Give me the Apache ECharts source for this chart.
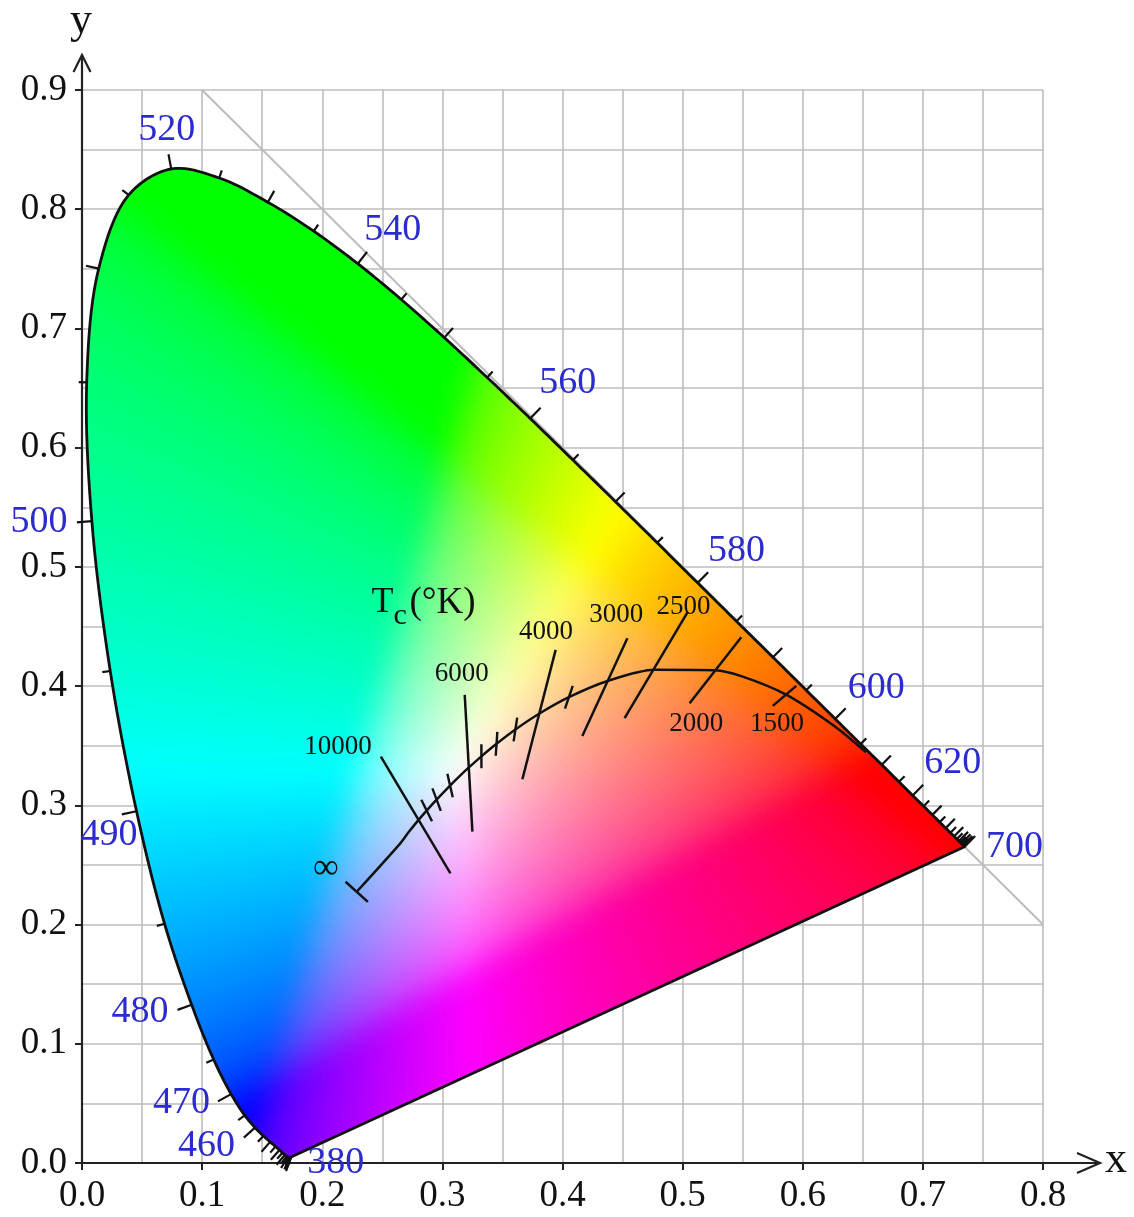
<!DOCTYPE html>
<html>
<head>
<meta charset="utf-8">
<script src="https://cdn.jsdelivr.net/npm/echarts@6/dist/echarts.min.js"></script>
<style>
  html, body { margin: 0; padding: 0; background: #fff; }
  #chart { width: 1134px; height: 1217px; }
</style>
</head>
<body>
<div id="chart"></div>
<script>
// spectral locus (CIE 1931, 5 nm steps)
const wavelengths = [380,385,390,395,400,405,410,415,420,425,430,435,440,445,450,455,460,465,470,475,480,485,490,495,500,505,510,515,520,525,530,535,540,545,550,555,560,565,570,575,580,585,590,595,600,605,610,615,620,625,630,635,640,645,650,655,660,665,670,675,680,685,690,695,700]
const locusX = [0.1741,0.1740,0.1738,0.1736,0.1733,0.1730,0.1726,0.1721,0.1714,0.1703,0.1689,0.1669,0.1644,0.1611,0.1566,0.1510,0.1440,0.1355,0.1241,0.1096,0.0913,0.0687,0.0454,0.0235,0.0082,0.0039,0.0139,0.0389,0.0743,0.1142,0.1547,0.1929,0.2296,0.2658,0.3016,0.3373,0.3731,0.4087,0.4441,0.4788,0.5125,0.5448,0.5752,0.6029,0.6270,0.6482,0.6658,0.6801,0.6915,0.7006,0.7079,0.7140,0.7190,0.7230,0.7260,0.7283,0.7300,0.7311,0.7320,0.7327,0.7334,0.7340,0.7344,0.7346,0.7347]
const locusY = [0.0050,0.0050,0.0049,0.0049,0.0048,0.0048,0.0048,0.0048,0.0051,0.0058,0.0069,0.0086,0.0109,0.0138,0.0177,0.0227,0.0297,0.0399,0.0578,0.0868,0.1327,0.2007,0.2950,0.4127,0.5384,0.6548,0.7502,0.8120,0.8338,0.8262,0.8059,0.7816,0.7543,0.7243,0.6923,0.6589,0.6245,0.5896,0.5547,0.5202,0.4866,0.4544,0.4242,0.3965,0.3725,0.3514,0.3340,0.3197,0.3083,0.2993,0.2920,0.2859,0.2809,0.2770,0.2740,0.2717,0.2700,0.2689,0.2680,0.2673,0.2666,0.2660,0.2656,0.2654,0.2653]

// wavelength labels
const wlLabelText = ['520','540','560','580','600','620','700','500','490','480','470','460','380']
const wlLabelX = [0.0705,0.2587,0.4043,0.5449,0.6611,0.7249,0.7762,-0.0358,0.0225,0.0483,0.0829,0.1037,0.2113]
const wlLabelY = [0.8664,0.7827,0.6544,0.5134,0.3982,0.3353,0.2647,0.5373,0.2752,0.1263,0.0503,0.0143,0.0000]

// planckian locus, 1000 K ... infinity
const planckT = [1000,1200,1500,1800,2000,2500,3000,3500,4000,4500,5000,5500,6000,6500,7000,8000,9000,10000,12000,15000,null]
const planckX = [0.6528,0.6251,0.5857,0.5494,0.5267,0.4770,0.4369,0.4053,0.3805,0.3608,0.3451,0.3325,0.3221,0.3135,0.3064,0.2952,0.2869,0.2807,0.2720,0.2637,0.2287]
const planckY = [0.3444,0.3674,0.3931,0.4082,0.4133,0.4137,0.4041,0.3907,0.3768,0.3636,0.3516,0.3411,0.3318,0.3237,0.3166,0.3048,0.2956,0.2884,0.2776,0.2666,0.2275]
const planckTickT = [9000,8000,7000,5500,5000,4500,3500]

// isotherm segments
const isoT = [10000,6000,4000,3000,2500,2000,1500]
const isoTopX = [0.2488,0.3186,0.3943,0.4540,0.5044,0.5488,0.5946]
const isoTopY = [0.3408,0.3926,0.4304,0.4402,0.4625,0.4410,0.4002]
const isoBotX = [0.3067,0.3250,0.3666,0.4165,0.4517,0.5058,0.5751]
const isoBotY = [0.2430,0.2779,0.3219,0.3582,0.3731,0.3857,0.3834]

const tempLabelText = ['10000','6000','4000','3000','2500','2000','1500','∞']
const tempLabelX = [0.2132,0.3161,0.3862,0.4448,0.5007,0.5114,0.5786,0.2030]
const tempLabelY = [0.3493,0.4101,0.4451,0.4597,0.4667,0.3681,0.3681,0.2472]

const tcLabelPos = [0.2409, 0.4698]

const FONT = '"Liberation Serif", "Times New Roman", serif'
const BLUE = '#2b2bcf'
const INK = '#111'
const GRAY = '#bdbdbd'
const labeledWl = [380,460,470,480,490,500,520,540,560,580,600,620,700]

function pixelPts(api, xs, ys) {
  return xs.map((x, i) => api.coord([x, ys[i]]))
}

// centripetal catmull-rom through the locus points (pixel space)
function smoothCurve(pts, steps) {
  const out = []
  const n = pts.length
  const dist = (a, b) => Math.max(Math.hypot(b[0] - a[0], b[1] - a[1]), 1e-4)
  for (let i = 0; i < n - 1; i++) {
    const p0 = pts[Math.max(i - 1, 0)], p1 = pts[i], p2 = pts[i + 1], p3 = pts[Math.min(i + 2, n - 1)]
    const t0 = 0
    const t1 = t0 + Math.sqrt(dist(p0, p1))
    const t2 = t1 + Math.sqrt(dist(p1, p2))
    const t3 = t2 + Math.sqrt(dist(p2, p3))
    for (let s = 0; s < steps; s++) {
      const t = t1 + (t2 - t1) * s / steps
      const mix = (a, b, ta, tb) => [
        ((tb - t) * a[0] + (t - ta) * b[0]) / (tb - ta),
        ((tb - t) * a[1] + (t - ta) * b[1]) / (tb - ta)
      ]
      const A1 = mix(p0, p1, t0, t1), A2 = mix(p1, p2, t1, t2), A3 = mix(p2, p3, t2, t3)
      const B1 = mix(A1, A2, t0, t2), B2 = mix(A2, A3, t1, t3)
      out.push(mix(B1, B2, t1, t2))
    }
  }
  out.push(pts[n - 1])
  return out
}

function toSrgb(c) {
  return c <= 0.0031308 ? 12.92 * c : 1.055 * Math.pow(c, 1 / 2.4) - 0.055
}

// xy chromaticity -> displayable rgb (clipped, max-normalised)
function chromaColor(x, y) {
  if (y < 0.001) y = 0.001
  const X = x / y, Z = (1 - x - y) / y
  let r = 3.2406 * X - 1.5372 - 0.4986 * Z
  let g = -0.9689 * X + 1.8758 + 0.0415 * Z
  let b = 0.0557 * X - 0.2040 + 1.0570 * Z
  r = Math.max(r, 0); g = Math.max(g, 0); b = Math.max(b, 0)
  const m = Math.max(r, g, b) || 1
  return [toSrgb(r / m) * 255, toSrgb(g / m) * 255, toSrgb(b / m) * 255]
}

function renderGamut(params, api) {
  if (params.dataIndex !== 0) return
  const pts = smoothCurve(pixelPts(api, locusX, locusY), 10)
  const o = api.coord([0, 0]), e = api.coord([0.8, 0.9])
  const sx = (e[0] - o[0]) / 0.8, sy = (e[1] - o[1]) / 0.9
  let minX = Infinity, minY = Infinity, maxX = -Infinity, maxY = -Infinity
  pts.forEach(p => {
    minX = Math.min(minX, p[0]); maxX = Math.max(maxX, p[0])
    minY = Math.min(minY, p[1]); maxY = Math.max(maxY, p[1])
  })
  const pad = 40
  const left = Math.floor(minX) - pad, top = Math.floor(minY) - pad
  const w = Math.ceil(maxX) - left + pad, h = Math.ceil(maxY) - top + pad
  const raw = document.createElement('canvas')
  raw.width = w; raw.height = h
  const rctx = raw.getContext('2d')
  const img = rctx.createImageData(w, h)
  const d = img.data
  for (let j = 0; j < h; j++) {
    const yv = (top + j + 0.5 - o[1]) / sy
    for (let i = 0; i < w; i++) {
      const xv = (left + i + 0.5 - o[0]) / sx
      const c = chromaColor(xv, yv)
      const k = (j * w + i) * 4
      d[k] = c[0]; d[k + 1] = c[1]; d[k + 2] = c[2]; d[k + 3] = 255
    }
  }
  rctx.putImageData(img, 0, 0)
  // soften the clipping ridges
  const cv = document.createElement('canvas')
  cv.width = w; cv.height = h
  const ctx = cv.getContext('2d')
  ctx.filter = 'blur(14px)'
  ctx.drawImage(raw, 0, 0)
  ctx.filter = 'none'
  ctx.globalCompositeOperation = 'destination-in'
  ctx.beginPath()
  pts.forEach((p, k) => k ? ctx.lineTo(p[0] - left, p[1] - top) : ctx.moveTo(p[0] - left, p[1] - top))
  ctx.closePath()
  ctx.fill()
  return {
    type: 'group',
    children: [
      { type: 'image', style: { image: cv, x: left, y: top, width: w, height: h } },
      { type: 'polygon', shape: { points: pts }, style: { fill: 'none', stroke: INK, lineWidth: 2.8, lineJoin: 'round' } }
    ]
  }
}

function tangentAt(pts, i, minLen) {
  let a = i, b = i
  const n = pts.length
  while (true) {
    const dx = pts[b][0] - pts[a][0], dy = pts[b][1] - pts[a][1]
    if (Math.hypot(dx, dy) >= minLen || (a === 0 && b === n - 1)) return [dx, dy]
    if (a > 0) a--
    if (b < n - 1) b++
  }
}

function renderLocusTick(params, api) {
  const i = params.dataIndex
  const pts = pixelPts(api, locusX, locusY)
  const c = api.coord([0.33, 0.33])
  const t = tangentAt(pts, i, 6)
  const L = Math.hypot(t[0], t[1]) || 1
  let nx = -t[1] / L, ny = t[0] / L
  const p = pts[i]
  if (nx * (p[0] - c[0]) + ny * (p[1] - c[1]) < 0) { nx = -nx; ny = -ny }
  const wl = wavelengths[i]
  const len = labeledWl.includes(wl) ? 15 : (wl % 10 === 0 ? 13 : 8)
  return {
    type: 'line',
    shape: { x1: p[0], y1: p[1], x2: p[0] + nx * len, y2: p[1] + ny * len },
    style: { stroke: INK, lineWidth: 2.2 }
  }
}

// tick direction on planck locus follows neighbouring isotherms (interpolated in mired)
function renderPlanckTick(params, api) {
  const pts = pixelPts(api, planckX, planckY)
  const last = pts.length - 1
  if (params.dataIndex === planckTickT.length) {
    const p = pts[last], q = pts[last - 1]
    const L = Math.hypot(p[0] - q[0], p[1] - q[1])
    const nx = -(p[1] - q[1]) / L, ny = (p[0] - q[0]) / L
    return { type: 'line', shape: { x1: p[0] - nx * 15, y1: p[1] - ny * 15, x2: p[0] + nx * 15, y2: p[1] + ny * 15 }, style: { stroke: INK, lineWidth: 2.5 } }
  }
  const T = planckTickT[params.dataIndex]
  const p = pts[planckT.indexOf(T)]
  const m = 1e6 / T
  const dirs = isoT.map((t, i) => {
    const a = api.coord([isoTopX[i], isoTopY[i]]), b = api.coord([isoBotX[i], isoBotY[i]])
    const L = Math.hypot(a[0] - b[0], a[1] - b[1])
    return { m: 1e6 / t, dx: (a[0] - b[0]) / L, dy: (a[1] - b[1]) / L }
  })
  let k = 0
  while (k < dirs.length - 2 && dirs[k + 1].m < m) k++
  const f = (m - dirs[k].m) / (dirs[k + 1].m - dirs[k].m)
  let dx = dirs[k].dx + (dirs[k + 1].dx - dirs[k].dx) * f
  let dy = dirs[k].dy + (dirs[k + 1].dy - dirs[k].dy) * f
  const L = Math.hypot(dx, dy); dx /= L; dy /= L
  const half = 12
  return { type: 'line', shape: { x1: p[0] - dx * half, y1: p[1] - dy * half, x2: p[0] + dx * half, y2: p[1] + dy * half }, style: { stroke: INK, lineWidth: 2.4 } }
}

function textRenderer(texts, size, color) {
  return function (params, api) {
    const p = api.coord([api.value(0), api.value(1)])
    return {
      type: 'text', x: p[0], y: p[1],
      style: { text: texts[params.dataIndex], font: size + 'px ' + FONT, fill: color, align: 'center', verticalAlign: 'middle' }
    }
  }
}

function renderTempLabels(params, api) {
  const i = params.dataIndex
  const p = api.coord([api.value(0), api.value(1)])
  const size = tempLabelText[i] === '∞' ? 36 : 27
  return {
    type: 'text', x: p[0], y: p[1],
    style: { text: tempLabelText[i], font: size + 'px ' + FONT, fill: INK, align: 'center', verticalAlign: 'middle' }
  }
}

function renderTc(params, api) {
  const p = api.coord(tcLabelPos)
  return {
    type: 'group',
    children: [
      { type: 'text', x: p[0], y: p[1], style: { text: 'T', font: '36px ' + FONT, fill: INK, align: 'left', verticalAlign: 'middle' } },
      { type: 'text', x: p[0] + 22, y: p[1] + 13, style: { text: 'c', font: '30px ' + FONT, fill: INK, align: 'left', verticalAlign: 'middle' } },
      { type: 'text', x: p[0] + 38, y: p[1], style: { text: '(°K)', font: '37px ' + FONT, fill: INK, align: 'left', verticalAlign: 'middle' } }
    ]
  }
}

function renderAxisArrows(params, api) {
  const xe = api.coord([0.8, 0]), ye = api.coord([0, 0.9])
  const xEnd = xe[0] + 57, yEnd = ye[1] - 35
  const st = { stroke: '#222', lineWidth: 2.2, fill: 'none' }
  return {
    type: 'group',
    children: [
      { type: 'line', shape: { x1: xe[0], y1: xe[1], x2: xEnd, y2: xe[1] }, style: st },
      { type: 'polyline', shape: { points: [[xEnd - 23, xe[1] - 10], [xEnd, xe[1]], [xEnd - 23, xe[1] + 10]] }, style: st },
      { type: 'line', shape: { x1: ye[0], y1: ye[1], x2: ye[0], y2: yEnd }, style: st },
      { type: 'polyline', shape: { points: [[ye[0] - 8.5, yEnd + 17], [ye[0], yEnd], [ye[0] + 8.5, yEnd + 17]] }, style: st },
      { type: 'text', x: xEnd + 16, y: xe[1] - 3, style: { text: 'x', font: '44px ' + FONT, fill: INK, align: 'center', verticalAlign: 'middle' } },
      { type: 'text', x: ye[0] - 1, y: yEnd - 34, style: { text: 'y', font: '44px ' + FONT, fill: INK, align: 'center', verticalAlign: 'middle' } }
    ]
  }
}

function valueAxis(max) {
  return {
    type: 'value', min: 0, max: max, interval: 0.1,
    axisLine: { show: true, onZero: false, lineStyle: { color: '#222', width: 2.2 } },
    axisTick: { show: true, length: 7, lineStyle: { color: '#222', width: 2 } },
    axisLabel: { color: INK, fontFamily: FONT, fontSize: 37, margin: 15, formatter: v => v.toFixed(1) },
    splitLine: { show: true, lineStyle: { color: GRAY, width: 1.6 } },
    minorTick: { show: false, splitNumber: 2 },
    minorSplitLine: { show: true, lineStyle: { color: GRAY, width: 1.6 } }
  }
}

const chart = echarts.init(document.getElementById('chart'))
chart.setOption({
  animation: false,
  grid: { left: 82, right: 91, top: 90, bottom: 54, outerBoundsMode: 'none' },
  xAxis: valueAxis(0.8),
  yAxis: valueAxis(0.9),
  series: [
    {
      type: 'lines', coordinateSystem: 'cartesian2d', silent: true, z: 1,
      lineStyle: { color: GRAY, width: 2, opacity: 1 },
      data: [{ coords: [[0.1, 0.9], [0.8, 0.2]] }]
    },
    { type: 'custom', silent: true, z: 2, renderItem: renderGamut, data: [[0, 0]] },
    { type: 'custom', silent: true, z: 3, renderItem: renderLocusTick, data: locusX.map((x, i) => [x, locusY[i]]) },
    {
      type: 'line', silent: true, z: 4, symbol: 'none', showSymbol: false, smooth: 0.3,
      lineStyle: { color: INK, width: 2.5 },
      data: planckX.map((x, i) => [x, planckY[i]])
    },
    {
      type: 'lines', coordinateSystem: 'cartesian2d', silent: true, z: 4,
      lineStyle: { color: INK, width: 2.5, opacity: 1 },
      data: isoT.map((t, i) => ({ coords: [[isoTopX[i], isoTopY[i]], [isoBotX[i], isoBotY[i]]] }))
    },
    { type: 'custom', silent: true, z: 5, renderItem: renderPlanckTick, data: planckTickT.map(t => [0, 0]).concat([[0, 0]]) },
    { type: 'custom', silent: true, z: 6, renderItem: textRenderer(wlLabelText, 38, BLUE), data: wlLabelX.map((x, i) => [x, wlLabelY[i]]) },
    { type: 'custom', silent: true, z: 6, renderItem: renderTempLabels, data: tempLabelX.map((x, i) => [x, tempLabelY[i]]) },
    { type: 'custom', silent: true, z: 6, renderItem: renderTc, data: [tcLabelPos] },
    { type: 'custom', silent: true, z: 6, renderItem: renderAxisArrows, data: [[0, 0]] }
  ]
})
</script>
</body>
</html>
